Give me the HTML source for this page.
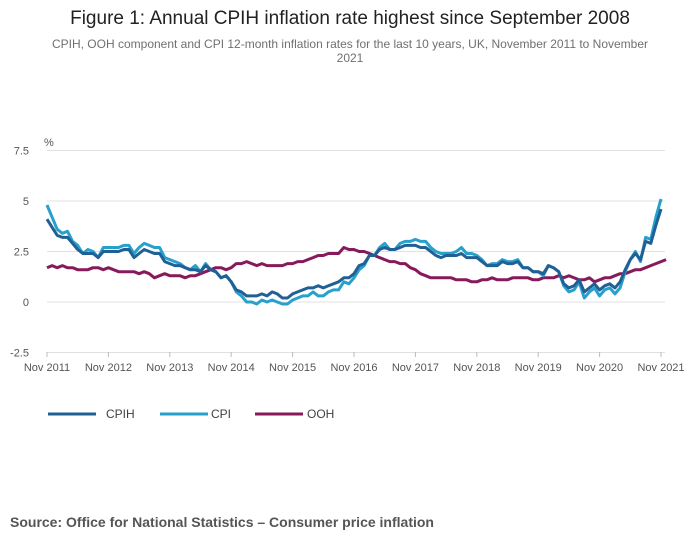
<!DOCTYPE html>
<html><head><meta charset="utf-8"><style>
body{margin:0;width:700px;height:549px;background:#fff;font-family:"Liberation Sans",sans-serif;overflow:hidden}
</style></head><body>
<svg width="700" height="549" style="position:absolute;left:0;top:0">
<text x="350" y="24" text-anchor="middle" font-size="19" fill="#222">Figure 1: Annual CPIH inflation rate highest since September 2008</text>
<text x="350" y="48" text-anchor="middle" font-size="12" fill="#707070">CPIH, OOH component and CPI 12-month inflation rates for the last 10 years, UK, November 2011 to November</text>
<text x="350" y="62" text-anchor="middle" font-size="12" fill="#707070">2021</text>
<text x="44" y="146" font-size="11" fill="#555">%</text>
<g id="grid"></g><g id="series"></g>
<text x="10" y="527" font-size="14" font-weight="bold" fill="#555">Source: Office for National Statistics – Consumer price inflation</text>
</svg>
<script>
const yTicks=[7.5,5,2.5,0,-2.5];
const yTickLabels=["7.5","5","2.5","0","-2.5"];
const xTickLabels=["Nov 2011","Nov 2012","Nov 2013","Nov 2014","Nov 2015","Nov 2016","Nov 2017","Nov 2018","Nov 2019","Nov 2020","Nov 2021"];
const cpih=[4.1,3.7,3.3,3.2,3.2,2.9,2.6,2.4,2.4,2.4,2.2,2.5,2.5,2.5,2.5,2.6,2.6,2.2,2.4,2.6,2.5,2.4,2.4,2.0,1.9,1.8,1.8,1.7,1.6,1.6,1.5,1.8,1.6,1.5,1.2,1.3,1.0,0.6,0.5,0.3,0.3,0.3,0.4,0.3,0.5,0.4,0.2,0.2,0.4,0.5,0.6,0.7,0.7,0.8,0.7,0.8,0.9,1.0,1.2,1.2,1.4,1.8,1.9,2.3,2.3,2.6,2.7,2.6,2.6,2.7,2.8,2.8,2.8,2.7,2.7,2.5,2.3,2.2,2.3,2.3,2.3,2.4,2.2,2.2,2.2,2.0,1.8,1.8,1.8,2.0,1.9,1.9,2.0,1.7,1.7,1.5,1.5,1.4,1.8,1.7,1.5,0.9,0.7,0.8,1.1,0.5,0.7,0.9,0.6,0.8,0.9,0.7,1.0,1.6,2.1,2.4,2.1,3.0,2.9,3.8,4.6];
const cpi=[4.8,4.2,3.6,3.4,3.5,3.0,2.8,2.4,2.6,2.5,2.2,2.7,2.7,2.7,2.7,2.8,2.8,2.4,2.7,2.9,2.8,2.7,2.7,2.2,2.1,2.0,1.9,1.7,1.6,1.8,1.5,1.9,1.6,1.5,1.2,1.3,1.0,0.5,0.3,0.0,0.0,-0.1,0.1,0.0,0.1,0.0,-0.1,-0.1,0.1,0.2,0.3,0.3,0.5,0.3,0.3,0.5,0.6,0.6,1.0,0.9,1.2,1.6,1.8,2.3,2.3,2.7,2.9,2.6,2.6,2.9,3.0,3.0,3.1,3.0,3.0,2.7,2.5,2.4,2.4,2.4,2.5,2.7,2.4,2.4,2.3,2.1,1.8,1.9,1.9,2.1,2.0,2.0,2.1,1.7,1.7,1.5,1.5,1.3,1.8,1.7,1.5,0.8,0.5,0.6,1.0,0.2,0.5,0.7,0.3,0.6,0.7,0.4,0.7,1.5,2.1,2.5,2.0,3.2,3.1,4.2,5.1];
const ooh=[1.7,1.8,1.7,1.8,1.7,1.7,1.6,1.6,1.6,1.7,1.7,1.6,1.7,1.6,1.5,1.5,1.5,1.5,1.4,1.5,1.4,1.2,1.3,1.4,1.3,1.3,1.3,1.2,1.3,1.3,1.4,1.5,1.6,1.7,1.7,1.6,1.7,1.9,1.9,2.0,1.9,1.8,1.9,1.8,1.8,1.8,1.8,1.9,1.9,2.0,2.0,2.1,2.2,2.3,2.3,2.4,2.4,2.4,2.7,2.6,2.6,2.5,2.5,2.4,2.3,2.2,2.1,2.0,2.0,1.9,1.9,1.7,1.6,1.4,1.3,1.2,1.2,1.2,1.2,1.2,1.1,1.1,1.1,1.0,1.0,1.1,1.1,1.2,1.1,1.1,1.1,1.2,1.2,1.2,1.2,1.1,1.1,1.2,1.2,1.2,1.3,1.2,1.3,1.2,1.1,1.1,1.2,1.0,1.1,1.2,1.2,1.3,1.4,1.4,1.5,1.6,1.6,1.7,1.8,1.9,2.0,2.1];
const NS="http://www.w3.org/2000/svg";
const x0=47,x1=661,n=cpih.length;
function xs(i){return x0+(x1-x0)*i/(n-1);}
function ys(v){return 302-v*20.2;}
function mk(tag,attrs,parent){const e=document.createElementNS(NS,tag);for(const k in attrs)e.setAttribute(k,attrs[k]);parent.appendChild(e);return e;}
const grid=document.getElementById('grid');
yTicks.forEach((t,i)=>{
 const l=mk('line',{x1:x0,x2:665,y1:ys(t),y2:ys(t),stroke:'#e0e0e0','stroke-width':1},grid);
 
 
 const tx=mk('text',{x:29,y:ys(t)+4,'text-anchor':'end','font-size':11,fill:'#555'},grid);
 tx.textContent=yTickLabels[i];
 
 
});
xTickLabels.forEach((lab,k)=>{
 const x=xs(k*12);
 const tk=mk('line',{x1:x,x2:x,y1:352,y2:357,stroke:'#bbb'},grid);
 
 
 const tx=mk('text',{x:x,y:371,'text-anchor':'middle','font-size':11,fill:'#555'},grid);
 tx.textContent=lab;
 
 
});
const sg=document.getElementById('series');
const defs=[["CPIH",cpih,"#206095",48,106],["CPI",cpi,"#27a0cc",160,211],["OOH",ooh,"#871a5b",255,307]];
[defs[2],defs[1],defs[0]].forEach(d=>{
 const p=mk('path',{d:d[1].map((v,i)=>(i?'L':'M')+xs(i).toFixed(1)+','+ys(v).toFixed(1)).join(''),fill:'none',stroke:d[2],'stroke-width':3,'stroke-linejoin':'round'},sg);
 
 
});
defs.forEach(d=>{
 const l=mk('line',{x1:d[3],x2:d[3]+48,y1:414,y2:414,stroke:d[2],'stroke-width':3},sg);
 
 
 const t=mk('text',{x:d[4],y:418,'font-size':12,fill:'#414042'},sg);
 t.textContent=d[0];
 
 
});
</script>
</body></html>
